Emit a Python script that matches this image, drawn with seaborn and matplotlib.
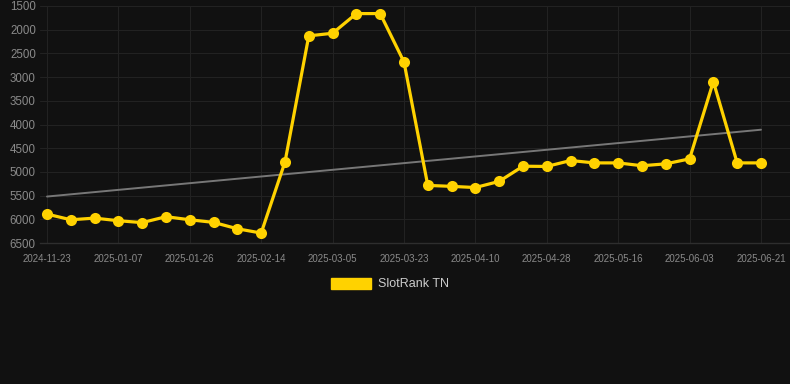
import pandas as pd
import matplotlib
matplotlib.use("Agg")
import matplotlib.pyplot as plt
from matplotlib.patches import Patch
import seaborn as sns

# data
dates = [
    "2024-11-23", "2024-12-08", "2024-12-23", "2025-01-07", "2025-01-13",
    "2025-01-20", "2025-01-26", "2025-02-01", "2025-02-08", "2025-02-14",
    "2025-02-20", "2025-02-27", "2025-03-05", "2025-03-11", "2025-03-17",
    "2025-03-23", "2025-03-29", "2025-04-04", "2025-04-10", "2025-04-16",
    "2025-04-22", "2025-04-28", "2025-05-04", "2025-05-10", "2025-05-16",
    "2025-05-22", "2025-05-28", "2025-06-03", "2025-06-09", "2025-06-15",
    "2025-06-21",
]
rank = [
    5890, 6010, 5975, 6030, 6070, 5945, 6010, 6065, 6200, 6290,
    4790, 2130, 2075, 1660, 1660, 2680, 5285, 5305, 5330, 5200,
    4880, 4885, 4760, 4810, 4810, 4870, 4830, 4725, 3095, 4810,
    4810,
]
trend_start = 5520
trend_end = 4110
series_name = "SlotRank TN"

df = pd.DataFrame({"idx": range(len(dates)), "date": dates, "rank": rank})
trend = pd.DataFrame({"idx": [0, len(dates) - 1], "rank": [trend_start, trend_end]})

sns.set_theme(style="dark")
plt.rcParams["font.family"] = ["Liberation Sans", "DejaVu Sans"]

bg = "#111111"
gold = "#FFD200"

fig = plt.figure(figsize=(7.9, 3.84), dpi=100, facecolor=bg)
ax = fig.add_axes([40 / 790, 1 - 243 / 384, 750 / 790, 237 / 384])
ax.set_facecolor(bg)

sns.lineplot(data=trend, x="idx", y="rank", ax=ax, color="#777777", linewidth=1.4)
sns.lineplot(data=df, x="idx", y="rank", ax=ax, color=gold, linewidth=2.3,
             marker="o", markersize=8, markeredgewidth=0, clip_on=False)

ax.set_ylim(6500, 1500)
ax.set_xlim(-0.294, 31.22)
ax.set_yticks(range(1500, 6501, 500))
ax.set_yticklabels([str(v) for v in range(1500, 6501, 500)], fontsize=8.3, color="#8a8a8a")
tick_idx = list(range(0, len(dates), 3))
ax.set_xticks(tick_idx)
ax.set_xticklabels([dates[i] for i in tick_idx], fontsize=7, color="#8a8a8a")
ax.tick_params(axis="y", length=0, pad=3)
ax.tick_params(axis="x", length=0, pad=8)

ax.grid(True, color="#222222", linewidth=0.8)
for s in ["top", "right", "left"]:
    ax.spines[s].set_visible(False)
ax.spines["bottom"].set_color("#2e2e2e")
ax.spines["bottom"].set_linewidth(1)
ax.set_xlabel("")
ax.set_ylabel("")

fig.legend(handles=[Patch(facecolor=gold, edgecolor=gold, label=series_name)],
           loc="center", bbox_to_anchor=(390 / 790, 1 - 284 / 384), frameon=False,
           fontsize=9, labelcolor="#cccccc", handlelength=3.2, handleheight=1.0,
           handletextpad=0.5)

fig.savefig("out.png", dpi=100, facecolor=bg)
